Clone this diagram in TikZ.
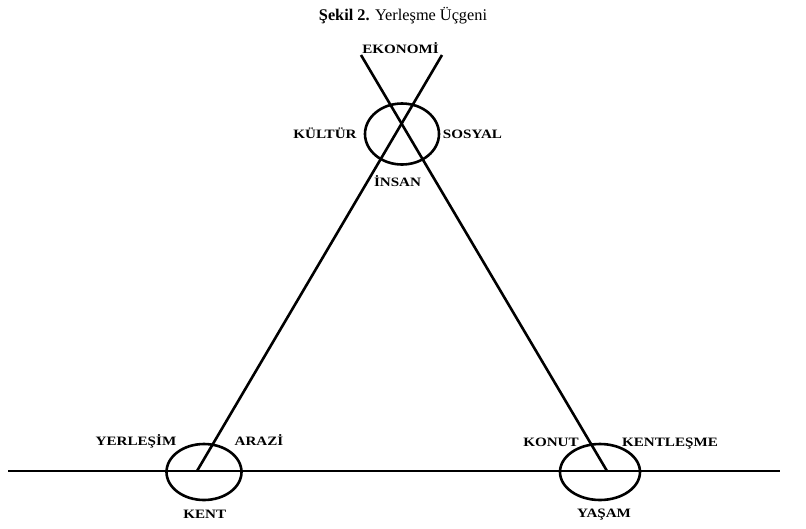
\documentclass[tikz,border=0pt]{standalone}
\usepackage{fontspec}
\usepackage{graphicx}
\setmainfont{Liberation Serif}
\usetikzlibrary{shapes.geometric}
\begin{document}
\begin{tikzpicture}[x=1pt,y=-1pt,
  lbl/.style={anchor=base,inner sep=0pt,font=\fontsize{12.8}{14}\selectfont\bfseries},
  ring/.style={draw,ellipse,line width=2.6pt,inner sep=0pt},
  ln/.style={line width=2.6pt}]
\useasboundingbox (0,0) rectangle (806,528);
\node[anchor=base,inner sep=0pt,font=\fontsize{16.3}{19}\selectfont] (title) at (403,20) {\textbf{Şekil 2.} Yerleşme Üçgeni};
% rings
\node[ring,minimum width=74pt,minimum height=61pt] (insan) at (402,134) {};
\node[ring,minimum width=75pt,minimum height=56pt] (kent) at (204,472) {};
\node[ring,minimum width=80pt,minimum height=56pt] (yasam) at (600,472) {};
% line endpoints
\coordinate (eL) at (361,55);
\coordinate (eR) at (442,55);
\coordinate (kP) at (197,471);
\coordinate (yP) at (607,471);
\coordinate (hL) at (8,471);
\coordinate (hR) at (780,471);
\draw[ln] (eL) -- (yP);
\draw[ln] (eR) -- (kP);
\draw[ln] (hL) -- (hR);
% labels
\node[lbl] (ekonomi) at (400.5,53.3) {\scalebox{1.18}[1]{EKONOMİ}};
\node[lbl] (kultur) at (325,138.3) {\scalebox{1.18}[1]{KÜLTÜR}};
\node[lbl] (sosyal) at (472.5,138.3) {\scalebox{1.18}[1]{SOSYAL}};
\node[lbl] (insanl) at (397.5,186.7) {\scalebox{1.18}[1]{İNSAN}};
\node[lbl] (yerlesim) at (136,445) {\scalebox{1.18}[1]{YERLEŞİM}};
\node[lbl] (arazi) at (259,445) {\scalebox{1.18}[1]{ARAZİ}};
\node[lbl] (kentl) at (204.7,518.3) {\scalebox{1.18}[1]{KENT}};
\node[lbl] (konut) at (551,446) {\scalebox{1.18}[1]{KONUT}};
\node[lbl] (kentlesme) at (670,446) {\scalebox{1.18}[1]{KENTLEŞME}};
\node[lbl] (yasaml) at (604,517.5) {\scalebox{1.18}[1]{YAŞAM}};
\end{tikzpicture}
\end{document}
